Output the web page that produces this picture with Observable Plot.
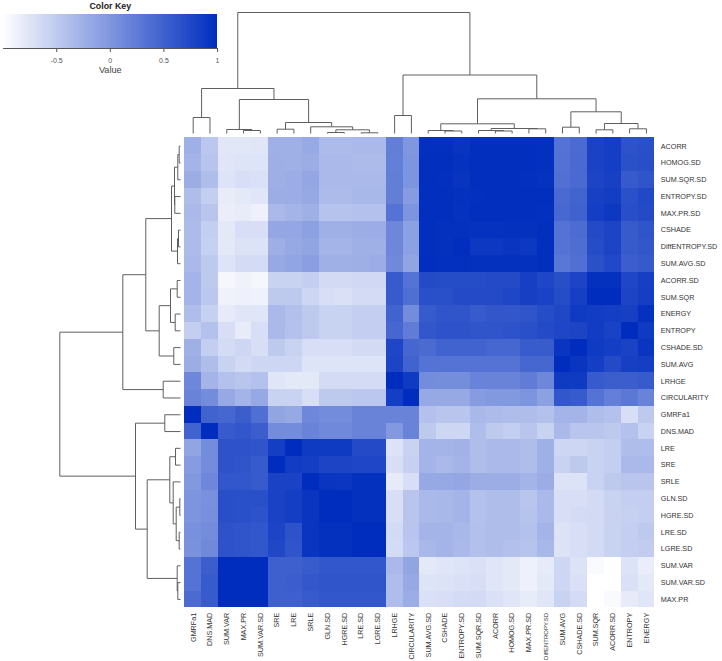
<!DOCTYPE html>
<html>
<head>
<meta charset="utf-8">
<script src="https://cdn.jsdelivr.net/npm/d3@7"></script>
<script src="https://cdn.jsdelivr.net/npm/@observablehq/plot@0.6"></script>
<style>
html,body{margin:0;padding:0;background:#fff}
#fig{position:relative;width:722px;height:661px;overflow:hidden}
#fig svg{position:absolute;left:0;top:0}
</style>
</head>
<body>
<div id="fig"></div>
<script>
const rowLabels = ["ACORR","HOMOG.SD","SUM.SQR.SD","ENTROPY.SD","MAX.PR.SD","CSHADE","DiffENTROPY.SD","SUM.AVG.SD","ACORR.SD","SUM.SQR","ENERGY","ENTROPY","CSHADE.SD","SUM.AVG","LRHGE","CIRCULARITY","GMRFa1","DNS.MAD","LRE","SRE","SRLE","GLN.SD","HGRE.SD","LRE.SD","LGRE.SD","SUM.VAR","SUM.VAR.SD","MAX.PR"];
const colLabels = ["GMRFa1","DNS.MAD","SUM.VAR","MAX.PR","SUM.VAR.SD","SRE","LRE","SRLE","GLN.SD","HGRE.SD","LRE.SD","LGRE.SD","LRHGE","CIRCULARITY","SUM.AVG.SD","CSHADE","ENTROPY.SD","SUM.SQR.SD","ACORR","HOMOG.SD","MAX.PR.SD","DiffENTROPY.SD","SUM.AVG","CSHADE.SD","SUM.SQR","ACORR.SD","ENTROPY","ENERGY"];

// correlation values, one list per row, in colLabels order
const corr = [
[-.25,-.47,-.77,-.77,-.76,-.25,-.25,-.19,-.35,-.35,-.33,-.33,.23,0,.97,.97,.93,.98,.98,.98,.98,.97,.33,.41,.80,.84,.65,.67],
[-.29,-.44,-.76,-.74,-.74,-.24,-.25,-.22,-.33,-.33,-.35,-.35,.22,.02,.98,.98,.95,.98,.98,.98,.98,.97,.34,.42,.8,.84,.66,.68],
[-.22,-.37,-.74,-.69,-.71,-.24,-.22,-.16,-.33,-.33,-.33,-.33,.23,.02,.98,.97,.93,.98,.98,.98,.97,.95,.36,.42,.78,.82,.58,.62],
[-.37,-.53,-.82,-.79,-.76,-.22,-.22,-.18,-.35,-.35,-.32,-.32,.23,-.06,.98,.98,.96,.97,.98,.98,.98,.98,.42,.48,.82,.85,.66,.74],
[-.33,-.45,-.84,-.82,-.87,-.33,-.29,-.25,-.43,-.43,-.41,-.41,.33,.02,.98,.98,.95,.98,.98,.98,.98,.97,.44,.5,.84,.9,.68,.72],
[-.35,-.53,-.79,-.69,-.69,-.16,-.16,-.10,-.25,-.25,-.22,-.22,.14,-.10,.98,.96,.96,.95,.95,.96,.96,.98,.33,.40,.72,.78,.56,.62],
[-.35,-.55,-.79,-.73,-.73,-.24,-.18,-.14,-.29,-.29,-.25,-.25,.14,-.10,.98,.96,.99,.9,.9,.92,.9,.98,.33,.38,.7,.78,.56,.6],
[-.33,-.49,-.74,-.66,-.66,-.18,-.14,-.08,-.25,-.25,-.24,-.22,.12,-.14,.99,.97,.97,.96,.96,.96,.96,.98,.30,.36,.66,.74,.54,.58],
[-.29,-.49,-.92,-.88,-.92,-.57,-.57,-.53,-.65,-.65,-.63,-.63,.57,.33,.72,.7,.7,.7,.72,.72,.83,.76,.69,.78,.96,.96,.76,.83],
[-.29,-.47,-.88,-.87,-.88,-.49,-.49,-.61,-.69,-.71,-.66,-.66,.57,.37,.67,.67,.72,.72,.72,.76,.83,.8,.7,.83,1,1,.78,.84],
[-.37,-.55,-.8,-.76,-.76,-.33,-.4,-.49,-.57,-.57,-.53,-.53,.49,.1,.57,.62,.62,.57,.6,.6,.62,.7,.75,.88,.86,.84,.83,.96],
[-.53,-.41,-.69,-.82,-.69,-.33,-.41,-.49,-.57,-.57,-.53,-.53,.45,.25,.6,.65,.65,.62,.62,.65,.67,.72,.76,.78,.86,.8,1,.88],
[-.25,-.53,-.66,-.61,-.69,-.49,-.57,-.69,-.69,-.69,-.65,-.65,.76,.45,.41,.49,.49,.49,.45,.45,.55,.55,.92,1,.88,.84,.8,.92],
[-.22,-.37,-.57,-.65,-.61,-.61,-.61,-.74,-.74,-.74,-.74,-.74,.78,.49,.33,.33,.33,.33,.33,.33,.45,.45,1,.92,.84,.72,.83,.84],
[.14,-.29,-.41,-.45,-.41,-.76,-.79,-.79,-.66,-.66,-.66,-.66,1,.88,.1,.08,.08,.18,.18,.18,.25,.14,.88,.88,.57,.53,.53,.57],
[.18,.1,-.18,-.29,-.18,-.57,-.57,-.69,-.49,-.49,-.47,-.47,.84,1,-.18,-.18,-.18,-.06,-.02,-.02,.02,-.1,.61,.57,.33,.22,.29,.18],
[1,.49,.45,.53,.37,-.14,-.18,.14,.1,.1,.18,.18,.18,.18,-.41,-.45,-.45,-.32,-.35,-.37,-.37,-.41,-.29,-.29,-.37,-.41,-.69,-.49],
[.49,1,.57,.61,.53,.1,.1,.18,.12,.12,.18,.18,-.02,.18,-.49,-.61,-.61,-.37,-.49,-.53,-.45,-.57,-.33,-.45,-.45,-.49,-.41,-.57],
[-.14,.1,.65,.65,.62,.84,1,.88,.88,.88,.72,.72,-.73,-.57,-.29,-.29,-.27,-.37,-.33,-.33,-.37,-.25,-.61,-.61,-.57,-.53,-.37,-.37],
[-.06,.1,.65,.62,.57,1,.86,.84,.78,.78,.76,.76,-.69,-.55,-.29,-.33,-.29,-.37,-.33,-.33,-.37,-.25,-.57,-.49,-.57,-.53,-.33,-.33],
[-.02,.14,.61,.61,.57,.8,.8,1,.92,.91,.96,.96,-.8,-.69,-.18,-.18,-.16,-.22,-.22,-.22,-.29,-.22,-.73,-.73,-.57,-.49,-.45,-.45],
[.02,.06,.69,.67,.67,.8,.84,.92,1,1,.96,.96,-.69,-.45,-.33,-.32,-.29,-.41,-.37,-.37,-.45,-.33,-.69,-.69,-.65,-.57,-.53,-.53],
[.02,.07,.69,.67,.65,.8,.84,.92,1,1,.96,.96,-.69,-.45,-.33,-.32,-.29,-.41,-.37,-.37,-.43,-.33,-.69,-.66,-.65,-.58,-.55,-.53],
[.06,.1,.65,.62,.61,.78,.65,.92,.96,.96,1,1,-.65,-.45,-.29,-.29,-.32,-.40,-.37,-.37,-.41,-.29,-.73,-.69,-.65,-.57,-.53,-.49],
[.04,.12,.65,.62,.61,.75,.62,.92,.96,.96,1,1,-.66,-.47,-.32,-.29,-.33,-.40,-.37,-.40,-.43,-.32,-.73,-.69,-.65,-.57,-.53,-.51],
[.33,.53,1,1,1,.51,.51,.55,.61,.61,.61,.61,-.33,-.14,-.79,-.76,-.74,-.71,-.76,-.79,-.87,-.8,-.61,-.73,-.95,-1,-.73,-.84],
[.33,.57,1,1,1,.51,.53,.59,.62,.62,.62,.62,-.37,-.18,-.74,-.73,-.71,-.69,-.76,-.79,-.87,-.79,-.61,-.71,-1,-1,-.71,-.79],
[.41,.57,1,1,1,.51,.51,.57,.61,.61,.61,.61,-.37,-.22,-.71,-.69,-.66,-.65,-.71,-.76,-.82,-.76,-.57,-.66,-1,-.95,-.8,-.76]
];

// dendrograms: [left, right, merge height]; leaves are indices into the label lists
const colLeftA = [[0,1,1.6],[[2,[3,4,.3],.4],[[5,6,.43],[7,[[8,9,.1],[10,11,.07],.37],.67],1.1],3.4],4.5];
const colRightA = [[[14,[15,16,.25],.3],[[17,[18,19,.25],.3],[20,21,.47],.5],.97],[[22,23,.63],[[24,25,.37],[26,27,.47],1.0],2.17],3.47];
const colTree = [colLeftA,[[12,13,1.8],colRightA,5.85],12.1];
const rowTopA = [[[[[0,1,.13],2,.27],[3,4,.57],.6],[[5,6,.2],7,.3],.9],[[[8,9,.33],[10,11,.53],1.0],[12,13,.67],2.13],3.47];
const rowBottomA = [[[18,19,.5],[20,[[21,22,.07],[23,24,.13],.43],.73],1.07],[25,[26,27,.27],.33],3.33];
const rowTree = [[rowTopA,[14,15,1.73],5.77],[[16,17,1.57],rowBottomA,4.5],12.07];

const keyTicks = [-0.5,0,0.5,1];
const keySteps = d3.range(-1,1,0.02);
const colorRange = ["#ffffff","#002dbe"];
const font = "'Liberation Sans', Arial, sans-serif";
const lineColor = "#5f5f5f";

function segments(tree){
  const segs=[];
  (function walk(n){
    if(typeof n==="number") return {p:n+.5,h:0};
    const a=walk(n[0]), b=walk(n[1]), h=n[2];
    segs.push({p1:a.p,h1:a.h,p2:a.p,h2:h},{p1:a.p,h1:h,p2:b.p,h2:h},{p1:b.p,h1:b.h,p2:b.p,h2:h});
    return {p:(a.p+b.p)/2,h};
  })(tree);
  return segs;
}

const cells = corr.flatMap((r,i)=>r.map((v,j)=>({row:rowLabels[i],col:colLabels[j],v})));
const X0=184.3, X1=654.3, Y0=137.3, Y1=607.3;
const style={background:"none",fontFamily:font,overflow:"hidden"};

const main = Plot.plot({
  width:722,height:661,marginLeft:X0,marginRight:722-X1,marginTop:Y0,marginBottom:661-Y1,style,
  x:{type:"band",domain:colLabels,padding:0,round:false,label:null},
  y:{type:"band",domain:rowLabels,padding:0,round:false,label:null},
  color:{type:"linear",domain:[-1,1],range:colorRange},
  marks:[
    Plot.cell(cells,{x:"col",y:"row",fill:"v",inset:0,shapeRendering:"crispEdges"}),
    Plot.axisX({anchor:"bottom",tickSize:0,tickPadding:5,tickRotate:-90,fontSize:d=>d==="DiffENTROPY.SD"?6:d==="CIRCULARITY"?7:7.2,fill:"#333",label:null}),
    Plot.axisY({anchor:"right",tickSize:0,tickPadding:6,fontSize:7.2,fill:"#333",label:null})
  ]
});

const top_ = Plot.plot({
  width:722,height:136,margin:0,style,
  x:{type:"linear",domain:[0,28],range:[X0,X1],axis:null},
  y:{type:"linear",domain:[0,12.1],range:[133,12],axis:null},
  marks:[Plot.link(segments(colTree),{x1:"p1",x2:"p2",y1:"h1",y2:"h2",stroke:lineColor,strokeWidth:1})]
});

const left_ = Plot.plot({
  width:184,height:661,margin:0,style,
  x:{type:"linear",domain:[0,12.07],range:[180,59.3],axis:null},
  y:{type:"linear",domain:[0,28],range:[Y0,Y1],axis:null},
  marks:[Plot.link(segments(rowTree),{y1:"p1",y2:"p2",x1:"h1",x2:"h2",stroke:lineColor,strokeWidth:1})]
});

const key = Plot.plot({
  width:226,height:80,marginLeft:0,marginRight:0,marginTop:14,marginBottom:32,style,
  x:{type:"linear",domain:[-1,1],range:[2.6,217],label:null},
  y:{type:"linear",domain:[0,1],axis:null},
  color:{type:"linear",domain:[-1,1],range:colorRange},
  marks:[
    Plot.rect(keySteps,{x1:d=>d,x2:d=>d+0.02,y1:0,y2:1,fill:d=>d+0.01,shapeRendering:"crispEdges"}),
    Plot.link([-1],{x1:-1,x2:1,y1:0,y2:0,stroke:"#555"}),
    Plot.axisX({ticks:keyTicks,tickFormat:d=>String(d),tickSize:4,tickPadding:6,fontSize:7,color:"#555",label:null}),
    Plot.text(["Color Key"],{x:0,y:1,dy:-8,fontSize:8.8,fontWeight:"bold",fill:"#222"}),
    Plot.text(["Value"],{x:0,y:0,dy:22,fontSize:9.2,fill:"#444"})
  ]
});

const fig=document.getElementById("fig");
[main,top_,left_,key].forEach(s=>fig.appendChild(s));
</script>
</body>
</html>
